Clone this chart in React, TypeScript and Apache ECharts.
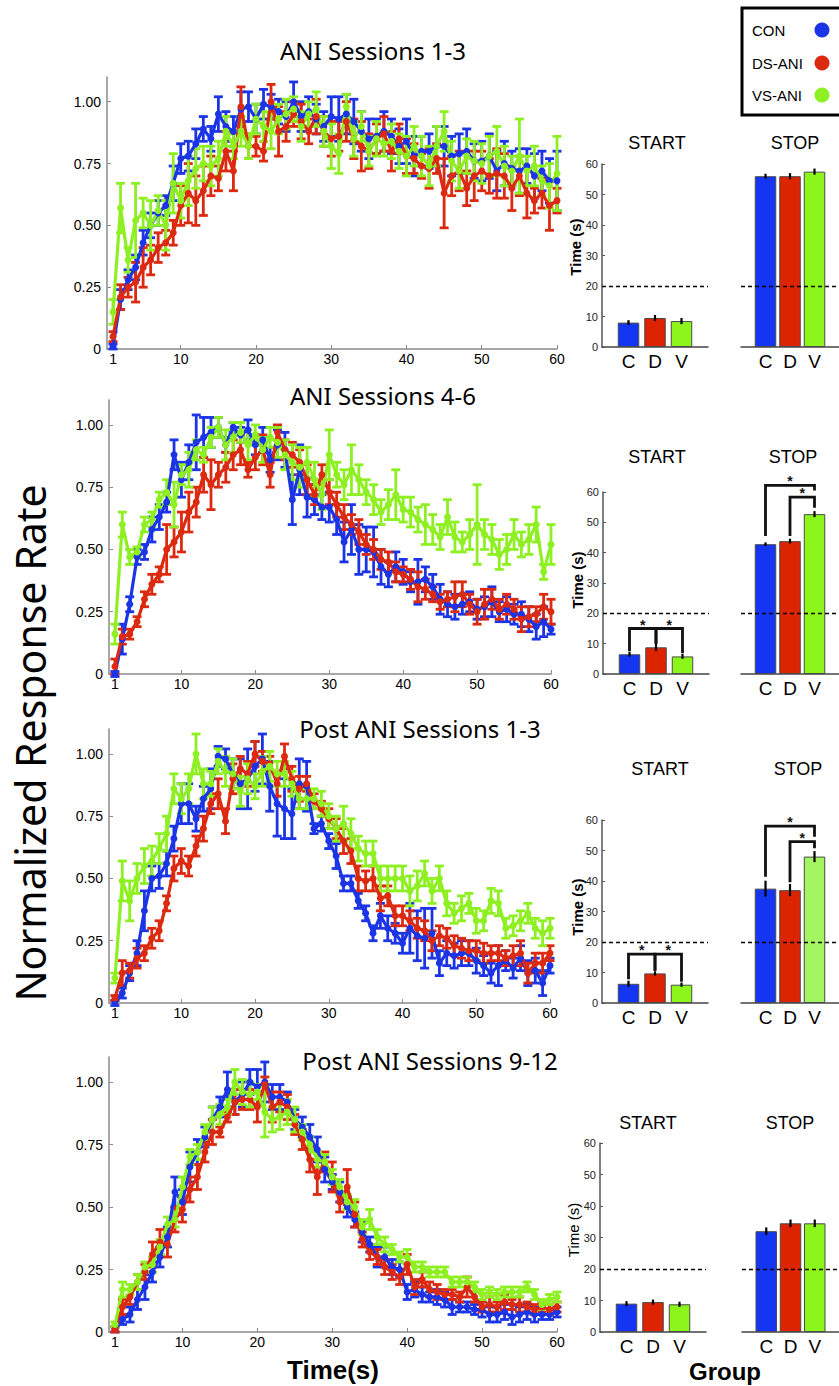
import React, { useEffect, useRef } from "react";
import * as echarts from "echarts";

// ---------- DATA ----------
const TIME = [1,2,3,4,5,6,7,8,9,10,11,12,13,14,15,16,17,18,19,20,21,22,23,24,25,26,27,28,29,30,31,32,33,34,35,36,37,38,39,40,41,42,43,44,45,46,47,48,49,50,51,52,53,54,55,56,57,58,59,60];
const X_TICKS = [1, 10, 20, 30, 40, 50, 60];
const Y_TICKS = [0, 0.25, 0.5, 0.75, 1.0];
const GROUP_LABELS = ["C", "D", "V"];
const GROUP_NAMES = ["CON", "DS-ANI", "VS-ANI"];
const ROW_TITLES = ["ANI Sessions 1-3", "ANI Sessions 4-6", "Post ANI Sessions 1-3", "Post ANI Sessions 9-12"];

// Row 1: ANI Sessions 1-3
const R1_CON = [0.01,0.2,0.28,0.33,0.43,0.5,0.55,0.58,0.67,0.77,0.78,0.83,0.89,0.85,0.95,0.9,0.88,0.97,0.98,0.93,0.99,0.98,0.96,0.94,1.0,0.94,0.96,0.93,0.9,0.94,0.93,0.95,0.92,0.88,0.85,0.86,0.88,0.86,0.82,0.84,0.78,0.8,0.8,0.82,0.82,0.78,0.79,0.8,0.76,0.76,0.78,0.72,0.75,0.73,0.72,0.74,0.7,0.72,0.68,0.68];
const R1_CON_ERR = [0.01,0.04,0.04,0.05,0.05,0.05,0.05,0.04,0.07,0.06,0.06,0.06,0.05,0.05,0.07,0.06,0.06,0.07,0.06,0.06,0.06,0.05,0.05,0.06,0.08,0.06,0.06,0.06,0.06,0.08,0.09,0.08,0.09,0.08,0.08,0.07,0.08,0.07,0.07,0.09,0.08,0.06,0.07,0.08,0.08,0.08,0.08,0.09,0.07,0.08,0.09,0.08,0.09,0.07,0.09,0.07,0.09,0.08,0.09,0.12];
const R1_DS = [0.05,0.21,0.25,0.27,0.33,0.36,0.41,0.43,0.47,0.58,0.63,0.6,0.64,0.7,0.69,0.8,0.72,0.98,0.82,0.82,0.8,1.0,0.88,0.9,0.95,0.92,0.88,0.94,0.88,0.85,0.86,0.92,0.85,0.82,0.8,0.85,0.87,0.8,0.85,0.78,0.77,0.74,0.73,0.77,0.63,0.7,0.72,0.65,0.7,0.72,0.7,0.71,0.7,0.65,0.7,0.63,0.6,0.63,0.58,0.6];
const R1_DS_ERR = [0.02,0.05,0.04,0.08,0.08,0.06,0.06,0.05,0.05,0.08,0.12,0.1,0.1,0.08,0.05,0.08,0.08,0.08,0.05,0.04,0.04,0.07,0.1,0.06,0.05,0.07,0.05,0.07,0.06,0.07,0.06,0.08,0.08,0.1,0.07,0.06,0.07,0.08,0.06,0.07,0.06,0.05,0.08,0.06,0.14,0.08,0.08,0.07,0.1,0.08,0.07,0.1,0.09,0.09,0.08,0.1,0.05,0.06,0.1,0.05];
const R1_VS = [0.15,0.57,0.36,0.52,0.55,0.5,0.56,0.5,0.67,0.6,0.68,0.73,0.75,0.74,0.77,0.88,0.82,0.88,0.82,0.93,0.9,0.88,0.93,0.95,0.97,0.9,0.95,0.97,0.88,0.82,0.79,0.98,0.85,0.9,0.8,0.85,0.83,0.84,0.8,0.78,0.82,0.78,0.74,0.82,0.88,0.76,0.72,0.78,0.76,0.75,0.78,0.8,0.74,0.72,0.78,0.72,0.74,0.68,0.66,0.71];
const R1_VS_ERR = [0.05,0.1,0.05,0.15,0.06,0.1,0.06,0.1,0.12,0.07,0.1,0.08,0.07,0.08,0.07,0.06,0.05,0.06,0.05,0.06,0.06,0.07,0.06,0.06,0.05,0.06,0.05,0.07,0.06,0.09,0.08,0.05,0.07,0.06,0.06,0.07,0.05,0.07,0.07,0.08,0.08,0.08,0.08,0.08,0.08,0.08,0.07,0.07,0.08,0.08,0.08,0.1,0.08,0.06,0.15,0.06,0.08,0.06,0.09,0.15];

// Row 2: ANI Sessions 4-6
const R2_CON = [0.0,0.14,0.28,0.47,0.49,0.58,0.63,0.69,0.88,0.78,0.85,0.93,0.95,0.97,0.99,0.92,0.99,0.96,0.98,0.92,0.94,0.86,0.92,0.9,0.7,0.82,0.71,0.7,0.67,0.67,0.62,0.53,0.58,0.5,0.5,0.49,0.43,0.4,0.43,0.41,0.37,0.37,0.38,0.35,0.3,0.28,0.27,0.28,0.29,0.26,0.27,0.29,0.25,0.26,0.24,0.24,0.22,0.19,0.21,0.18];
const R2_CON_ERR = [0.01,0.06,0.03,0.03,0.03,0.05,0.05,0.04,0.06,0.07,0.07,0.11,0.08,0.06,0.04,0.03,0.02,0.03,0.04,0.04,0.05,0.05,0.06,0.07,0.1,0.1,0.08,0.06,0.05,0.06,0.06,0.08,0.1,0.1,0.09,0.1,0.07,0.05,0.06,0.05,0.04,0.09,0.05,0.05,0.06,0.05,0.05,0.04,0.04,0.04,0.04,0.06,0.04,0.05,0.04,0.05,0.05,0.05,0.06,0.02];
const R2_DS = [0.03,0.15,0.16,0.21,0.3,0.36,0.4,0.5,0.53,0.57,0.65,0.69,0.8,0.76,0.8,0.83,0.88,0.9,0.82,0.87,0.9,0.8,0.97,0.9,0.88,0.85,0.78,0.72,0.8,0.73,0.68,0.63,0.6,0.57,0.52,0.5,0.46,0.45,0.41,0.4,0.38,0.35,0.34,0.32,0.29,0.3,0.31,0.32,0.28,0.25,0.28,0.3,0.26,0.28,0.26,0.22,0.23,0.24,0.27,0.25];
const R2_DS_ERR = [0.03,0.03,0.02,0.02,0.03,0.04,0.03,0.1,0.06,0.08,0.08,0.06,0.07,0.1,0.05,0.06,0.06,0.06,0.03,0.05,0.06,0.05,0.03,0.04,0.05,0.05,0.06,0.04,0.04,0.05,0.05,0.05,0.04,0.05,0.04,0.04,0.04,0.04,0.04,0.03,0.04,0.06,0.04,0.03,0.03,0.03,0.06,0.05,0.04,0.05,0.06,0.04,0.04,0.04,0.04,0.05,0.04,0.03,0.05,0.05];
const R2_VS = [0.16,0.6,0.47,0.49,0.6,0.62,0.7,0.73,0.68,0.8,0.82,0.9,0.88,0.95,0.99,0.92,0.95,0.97,0.92,0.96,0.9,0.95,0.93,0.88,0.85,0.83,0.85,0.78,0.72,0.88,0.8,0.76,0.82,0.78,0.73,0.7,0.65,0.68,0.72,0.66,0.65,0.62,0.6,0.58,0.55,0.63,0.55,0.53,0.56,0.6,0.56,0.54,0.48,0.5,0.56,0.52,0.54,0.6,0.41,0.52];
const R2_VS_ERR = [0.04,0.05,0.03,0.02,0.03,0.03,0.03,0.05,0.09,0.04,0.07,0.04,0.03,0.04,0.04,0.06,0.06,0.04,0.06,0.04,0.05,0.04,0.06,0.06,0.07,0.08,0.06,0.07,0.06,0.1,0.05,0.06,0.1,0.06,0.05,0.06,0.05,0.06,0.1,0.05,0.06,0.05,0.08,0.06,0.05,0.07,0.06,0.04,0.06,0.16,0.06,0.06,0.06,0.06,0.06,0.05,0.06,0.07,0.03,0.08];

// Row 3: Post ANI Sessions 1-3
const R3_CON = [0.0,0.04,0.12,0.2,0.37,0.5,0.51,0.56,0.66,0.8,0.8,0.74,0.82,0.86,0.99,0.98,0.92,0.88,0.9,0.95,0.98,0.87,0.8,0.78,0.76,0.88,0.87,0.7,0.72,0.65,0.59,0.48,0.48,0.41,0.36,0.28,0.35,0.3,0.28,0.24,0.3,0.27,0.26,0.28,0.16,0.2,0.19,0.2,0.2,0.17,0.15,0.12,0.15,0.17,0.14,0.18,0.12,0.13,0.08,0.15];
const R3_CON_ERR = [0.01,0.02,0.03,0.05,0.08,0.05,0.05,0.05,0.05,0.08,0.08,0.05,0.05,0.08,0.04,0.04,0.06,0.1,0.12,0.1,0.1,0.1,0.13,0.12,0.1,0.1,0.1,0.02,0.03,0.03,0.05,0.03,0.03,0.03,0.03,0.03,0.05,0.05,0.04,0.04,0.1,0.1,0.12,0.1,0.05,0.05,0.05,0.05,0.05,0.05,0.04,0.04,0.08,0.04,0.04,0.05,0.05,0.05,0.05,0.03];
const R3_DS = [0.02,0.12,0.13,0.18,0.2,0.26,0.29,0.4,0.54,0.57,0.55,0.63,0.7,0.8,0.84,0.73,0.9,0.94,0.92,1.0,0.97,0.96,0.88,0.99,0.9,0.86,0.88,0.81,0.78,0.74,0.7,0.65,0.61,0.5,0.49,0.5,0.42,0.43,0.35,0.35,0.33,0.3,0.29,0.25,0.27,0.26,0.23,0.22,0.21,0.21,0.2,0.2,0.2,0.18,0.19,0.2,0.12,0.16,0.16,0.2];
const R3_DS_ERR = [0.01,0.05,0.03,0.04,0.03,0.04,0.04,0.03,0.05,0.05,0.04,0.04,0.05,0.04,0.06,0.05,0.06,0.05,0.05,0.05,0.04,0.03,0.05,0.05,0.05,0.05,0.03,0.03,0.03,0.04,0.04,0.05,0.05,0.05,0.04,0.05,0.05,0.04,0.04,0.04,0.04,0.04,0.04,0.04,0.04,0.04,0.04,0.04,0.04,0.04,0.04,0.03,0.03,0.03,0.04,0.05,0.04,0.04,0.04,0.03];
const R3_VS = [0.1,0.49,0.41,0.5,0.55,0.57,0.62,0.68,0.86,0.82,0.86,1.0,0.88,0.88,0.97,0.93,0.92,0.85,0.9,0.87,0.93,0.95,0.92,0.92,0.88,0.82,0.82,0.82,0.8,0.75,0.7,0.72,0.68,0.62,0.6,0.6,0.5,0.5,0.5,0.5,0.45,0.47,0.52,0.45,0.5,0.4,0.36,0.38,0.4,0.33,0.33,0.41,0.4,0.3,0.31,0.33,0.36,0.3,0.28,0.3];
const R3_VS_ERR = [0.02,0.08,0.08,0.06,0.07,0.06,0.06,0.07,0.06,0.06,0.06,0.08,0.06,0.05,0.05,0.06,0.06,0.06,0.06,0.05,0.06,0.06,0.05,0.05,0.05,0.04,0.04,0.04,0.05,0.05,0.05,0.07,0.06,0.05,0.05,0.05,0.05,0.05,0.05,0.05,0.06,0.06,0.05,0.05,0.05,0.05,0.04,0.05,0.04,0.05,0.04,0.05,0.05,0.04,0.04,0.04,0.04,0.04,0.05,0.04];

// Row 4: Post ANI Sessions 9-12
const R4_CON = [0.01,0.05,0.07,0.13,0.18,0.24,0.3,0.38,0.56,0.52,0.66,0.72,0.78,0.85,0.9,0.97,0.92,0.95,1.0,0.98,1.0,0.94,0.94,0.92,0.85,0.82,0.78,0.73,0.65,0.6,0.56,0.5,0.45,0.4,0.35,0.3,0.3,0.26,0.25,0.16,0.17,0.15,0.14,0.14,0.13,0.1,0.1,0.1,0.09,0.09,0.07,0.07,0.08,0.06,0.07,0.08,0.07,0.07,0.07,0.08];
const R4_CON_ERR = [0.01,0.02,0.03,0.04,0.05,0.04,0.04,0.04,0.06,0.05,0.06,0.05,0.04,0.05,0.04,0.07,0.05,0.05,0.05,0.07,0.08,0.05,0.05,0.04,0.04,0.04,0.05,0.05,0.05,0.03,0.04,0.04,0.03,0.04,0.03,0.04,0.04,0.03,0.03,0.03,0.03,0.03,0.02,0.03,0.03,0.03,0.02,0.02,0.02,0.03,0.03,0.03,0.03,0.03,0.03,0.03,0.03,0.02,0.02,0.02];
const R4_DS = [0.01,0.1,0.14,0.2,0.24,0.31,0.36,0.35,0.45,0.49,0.57,0.62,0.72,0.8,0.8,0.86,0.92,0.93,0.93,0.9,0.99,0.9,0.92,0.9,0.83,0.77,0.69,0.62,0.68,0.62,0.52,0.58,0.47,0.37,0.32,0.3,0.26,0.24,0.22,0.27,0.18,0.21,0.17,0.16,0.15,0.15,0.14,0.18,0.14,0.1,0.11,0.1,0.12,0.11,0.11,0.1,0.09,0.1,0.09,0.1];
const R4_DS_ERR = [0.01,0.03,0.03,0.03,0.03,0.05,0.05,0.05,0.05,0.05,0.05,0.05,0.04,0.05,0.02,0.02,0.05,0.04,0.04,0.06,0.03,0.06,0.04,0.05,0.04,0.04,0.05,0.07,0.04,0.06,0.04,0.07,0.05,0.03,0.03,0.03,0.03,0.03,0.03,0.04,0.03,0.03,0.03,0.03,0.02,0.02,0.02,0.04,0.02,0.02,0.03,0.02,0.03,0.02,0.03,0.02,0.02,0.02,0.02,0.02];
const R4_VS = [0.03,0.17,0.17,0.2,0.26,0.27,0.34,0.43,0.45,0.58,0.7,0.72,0.8,0.85,0.87,0.9,1.0,0.96,0.95,0.96,0.88,0.85,0.86,0.88,0.85,0.8,0.75,0.69,0.68,0.62,0.58,0.52,0.5,0.42,0.45,0.38,0.35,0.33,0.3,0.3,0.26,0.26,0.24,0.24,0.24,0.2,0.2,0.2,0.18,0.15,0.16,0.15,0.16,0.16,0.16,0.18,0.15,0.11,0.13,0.14];
const R4_VS_ERR = [0.01,0.03,0.02,0.03,0.02,0.03,0.03,0.03,0.03,0.04,0.03,0.03,0.03,0.05,0.04,0.03,0.05,0.05,0.05,0.03,0.1,0.05,0.05,0.05,0.05,0.03,0.03,0.03,0.03,0.03,0.03,0.03,0.03,0.03,0.04,0.03,0.03,0.02,0.02,0.03,0.02,0.02,0.02,0.02,0.02,0.02,0.02,0.02,0.02,0.02,0.02,0.02,0.02,0.02,0.02,0.02,0.02,0.02,0.02,0.02];

// Bar panels (seconds): C, D, V
const START_1 = [8.0, 9.5, 8.5];
const START_1_ERR = [0.8, 1.0, 1.0];
const STOP_1 = [56.0, 56.0, 57.5];
const STOP_1_ERR = [0.8, 1.0, 1.0];
const START_2 = [6.5, 8.8, 5.8];
const START_2_ERR = [0.8, 1.2, 0.8];
const STOP_2 = [42.8, 43.8, 52.7];
const STOP_2_ERR = [0.6, 0.8, 1.0];
const START_3 = [6.3, 9.7, 6.0];
const START_3_ERR = [1.0, 0.7, 0.7];
const STOP_3 = [37.5, 37.0, 48.0];
const STOP_3_ERR = [2.6, 2.0, 1.8];
const START_4 = [9.0, 9.5, 8.8];
const START_4_ERR = [0.8, 0.8, 0.8];
const STOP_4 = [32.0, 34.5, 34.5];
const STOP_4_ERR = [1.2, 1.2, 1.2];
const CRITERION = 20;

// Significance brackets: [groupFrom, groupTo, topValue, leftLegBottom, rightLegBottom]
const START_2_SIG = [[1, 2, 15, 7.5, 10.0], [2, 3, 15, 10.0, 6.8]];
const STOP_2_SIG = [[1, 3, 62.2, 45.5, 60.5], [2, 3, 58.3, 45.5, 54.8]];
const START_3_SIG = [[1, 2, 16, 7.8, 10.6], [2, 3, 16, 10.6, 7.0]];
const STOP_3_SIG = [[1, 3, 58.0, 41.4, 54.5], [2, 3, 52.9, 39.6, 50.7]];

// ---------- STYLE / LAYOUT ----------
const LINE_COLORS = ["#1b35e6", "#dc2a10", "#8ef022"];
const BAR_COLORS = ["#1436f2", "#dd2400", "#8cf51a"];
const BAR_COLORS_LIGHT_V = "#a3f562";
const FONT = "Liberation Sans, Arial, sans-serif";
const TITLE_FONT = "Noto Sans, Open Sans, sans-serif";

const LINE_GRIDS = [
  { left: 107, top: 77, width: 450, height: 272 },
  { left: 109, top: 400, width: 442, height: 274 },
  { left: 109, top: 729, width: 441, height: 274 },
  { left: 109, top: 1057, width: 448, height: 275 },
];
const START_GRIDS = [
  { left: 602, top: 164, width: 106, height: 183 },
  { left: 603, top: 492, width: 106, height: 182 },
  { left: 602, top: 820, width: 106, height: 183 },
  { left: 600, top: 1143, width: 106, height: 189 },
];
const STOP_GRIDS = [
  { left: 741, top: 164, width: 106, height: 183 },
  { left: 741, top: 492, width: 106, height: 182 },
  { left: 741, top: 820, width: 106, height: 183 },
  { left: 742, top: 1143, width: 106, height: 189 },
];
const LINE_TITLE_POS = [[373, 50], [383, 395], [420, 728], [430, 1060]];
const START_TITLE_POS = [[657, 143], [657, 457], [660, 769], [648, 1123]];
const STOP_TITLE_POS = [[795, 143], [793, 457], [798, 769], [790, 1123]];
const TIME_LABEL_POS = [[575, 247], [577, 580], [577, 907], [573, 1230]];

const LINE_ROWS = [
  [[R1_CON, R1_CON_ERR], [R1_DS, R1_DS_ERR], [R1_VS, R1_VS_ERR]],
  [[R2_CON, R2_CON_ERR], [R2_DS, R2_DS_ERR], [R2_VS, R2_VS_ERR]],
  [[R3_CON, R3_CON_ERR], [R3_DS, R3_DS_ERR], [R3_VS, R3_VS_ERR]],
  [[R4_CON, R4_CON_ERR], [R4_DS, R4_DS_ERR], [R4_VS, R4_VS_ERR]],
];
const BAR_ROWS = [
  { start: START_1, startErr: START_1_ERR, stop: STOP_1, stopErr: STOP_1_ERR, startSig: [], stopSig: [] },
  { start: START_2, startErr: START_2_ERR, stop: STOP_2, stopErr: STOP_2_ERR, startSig: START_2_SIG, stopSig: STOP_2_SIG },
  { start: START_3, startErr: START_3_ERR, stop: STOP_3, stopErr: STOP_3_ERR, startSig: START_3_SIG, stopSig: STOP_3_SIG },
  { start: START_4, startErr: START_4_ERR, stop: STOP_4, stopErr: STOP_4_ERR, startSig: [], stopSig: [] },
];

function errorBarRender(capHalf: number, width: number, fixedColor?: string) {
  return (params: any, api: any) => {
    const x = api.value(0);
    const lo = api.coord([x, api.value(1)]);
    const hi = api.coord([x, api.value(2)]);
    const style = { stroke: fixedColor || api.visual("color"), lineWidth: width };
    const children: any[] = [
      { type: "line", shape: { x1: lo[0], y1: lo[1], x2: hi[0], y2: hi[1] }, style },
    ];
    if (capHalf > 0) {
      children.push({ type: "line", shape: { x1: hi[0] - capHalf, y1: hi[1], x2: hi[0] + capHalf, y2: hi[1] }, style });
      children.push({ type: "line", shape: { x1: lo[0] - capHalf, y1: lo[1], x2: lo[0] + capHalf, y2: lo[1] }, style });
    }
    return { type: "group", children };
  };
}

function bracketRender(params: any, api: any) {
  const x1 = api.value(0), x2 = api.value(1), top = api.value(2), b1 = api.value(3), b2 = api.value(4);
  const p1 = api.coord([x1, b1]);
  const p2 = api.coord([x1, top]);
  const p3 = api.coord([x2, top]);
  const p4 = api.coord([x2, b2]);
  const mid = api.coord([(x1 + x2) / 2, top]);
  return {
    type: "group",
    children: [
      { type: "polyline", shape: { points: [p1, p2, p3, p4] }, style: { stroke: "#111", lineWidth: 2.8, fill: "none" } },
      {
        type: "text",
        x: mid[0],
        y: mid[1] - 4,
        style: { text: "*", fill: "#111", font: "bold 14px " + FONT, align: "center", verticalAlign: "middle", textAlign: "center", textVerticalAlign: "middle" },
      },
    ],
  };
}

function txt(text: string, x: number, y: number, font: string, extra: any = {}) {
  return {
    type: "text",
    x,
    y,
    rotation: extra.rotation || 0,
    silent: true,
    style: {
      text,
      fill: "#000",
      font,
      align: extra.align || "center",
      verticalAlign: "middle",
      textAlign: extra.align || "center",
      textVerticalAlign: "middle",
    },
  };
}

function buildOption() {
  const grid: any[] = [];
  const xAxis: any[] = [];
  const yAxis: any[] = [];
  const series: any[] = [];
  const graphic: any[] = [];

  LINE_ROWS.forEach((row, r) => {
    const gi = grid.length;
    grid.push({ ...LINE_GRIDS[r] });
    xAxis.push({
      type: "value", gridIndex: gi, min: 0.2, max: 60,
      axisLine: { show: true, lineStyle: { color: "#8a8a8a", width: 1.5 } },
      axisTick: { show: true, inside: true, length: 4, customValues: X_TICKS, lineStyle: { color: "#8a8a8a" } },
      axisLabel: { customValues: X_TICKS, fontSize: 14, color: "#000", margin: 3, fontFamily: FONT },
      splitLine: { show: false },
    });
    yAxis.push({
      type: "value", gridIndex: gi, min: 0, max: 1.1,
      axisLine: { show: true, lineStyle: { color: "#8a8a8a", width: 1.5 } },
      axisTick: { show: true, inside: true, length: 4, customValues: Y_TICKS, lineStyle: { color: "#8a8a8a" } },
      axisLabel: {
        customValues: Y_TICKS, fontSize: 14, color: "#000", margin: 6, fontFamily: FONT,
        formatter: (v: number) => (v === 0 ? "0" : v > 1.05 ? "" : v.toFixed(2)),
      },
      splitLine: { show: false },
    });
    row.forEach(([mean, err], s) => {
      series.push({
        type: "custom", xAxisIndex: gi, yAxisIndex: gi, silent: true,
        itemStyle: { color: LINE_COLORS[s] },
        renderItem: errorBarRender(4.5, 2.8),
        encode: { x: 0, y: [1, 2] },
        data: TIME.map((t, i) => [t, mean[i] - err[i], mean[i] + err[i]]),
        z: 2,
      });
      series.push({
        type: "line", name: GROUP_NAMES[s], xAxisIndex: gi, yAxisIndex: gi, silent: true,
        symbol: "circle", symbolSize: 7, showSymbol: true,
        itemStyle: { color: LINE_COLORS[s] },
        lineStyle: { color: LINE_COLORS[s], width: 3.2 },
        data: TIME.map((t, i) => [t, mean[i]]),
        z: 2,
      });
    });
    graphic.push(txt(ROW_TITLES[r], LINE_TITLE_POS[r][0], LINE_TITLE_POS[r][1], "24px " + TITLE_FONT));
  });

  BAR_ROWS.forEach((row, r) => {
    const panels = [
      { g: START_GRIDS[r], vals: row.start, err: row.startErr, sig: row.startSig, isStart: true },
      { g: STOP_GRIDS[r], vals: row.stop, err: row.stopErr, sig: row.stopSig, isStart: false },
    ];
    panels.forEach((p) => {
      const gi = grid.length;
      grid.push({ ...p.g });
      xAxis.push({
        type: "value", gridIndex: gi, min: 0, max: 4,
        axisLine: { show: true, lineStyle: { color: "#444", width: 1.5 } },
        axisTick: { show: false },
        axisLabel: { customValues: [1, 2, 3], formatter: (v: number) => GROUP_LABELS[Math.round(v) - 1] || "", fontSize: 19, color: "#000", margin: 5, fontFamily: FONT },
        splitLine: { show: false },
      });
      yAxis.push({
        type: "value", gridIndex: gi, min: 0, max: 60, interval: 10,
        axisLine: { show: p.isStart, lineStyle: { color: "#555", width: 1.5 } },
        axisTick: { show: p.isStart, inside: true, length: 3, lineStyle: { color: "#555" } },
        axisLabel: { show: p.isStart, fontSize: 11, color: "#222", margin: 4, fontFamily: FONT },
        splitLine: { show: false },
      });
      const lightV = r === 2 && !p.isStart;
      series.push({
        type: "bar", xAxisIndex: gi, yAxisIndex: gi, silent: true, barWidth: 21.5,
        data: p.vals.map((v, i) => ({
          value: [i + 1, v],
          itemStyle: { color: lightV && i === 2 ? BAR_COLORS_LIGHT_V : BAR_COLORS[i], borderColor: "#4a4a4a", borderWidth: 1 },
        })),
        markLine: {
          silent: true, symbol: "none", animation: false,
          label: { show: false },
          lineStyle: { type: [4, 3], color: "#000", width: 1.3 },
          data: [{ yAxis: CRITERION }],
        },
        z: 2,
      });
      series.push({
        type: "custom", xAxisIndex: gi, yAxisIndex: gi, silent: true,
        itemStyle: { color: "#000" },
        renderItem: errorBarRender(0, 2.2, "#000"),
        encode: { x: 0, y: [1, 2] },
        data: p.vals.map((v, i) => [i + 1, v - p.err[i], v + p.err[i]]),
        z: 3,
      });
      if (p.sig.length) {
        series.push({
          type: "custom", xAxisIndex: gi, yAxisIndex: gi, silent: true, clip: false,
          renderItem: bracketRender,
          encode: { x: [0, 1], y: [2, 3, 4] },
          data: p.sig,
          z: 4,
        });
      }
    });
    graphic.push(txt("START", START_TITLE_POS[r][0], START_TITLE_POS[r][1], "18px " + FONT));
    graphic.push(txt("STOP", STOP_TITLE_POS[r][0], STOP_TITLE_POS[r][1], "18px " + FONT));
    graphic.push(txt("Time (s)", TIME_LABEL_POS[r][0], TIME_LABEL_POS[r][1], (r === 3 ? "" : "bold ") + "15px " + FONT, { rotation: Math.PI / 2 }));
  });

  // Big axis titles
  graphic.push(txt("Normalized Response Rate", 30, 743, "41px " + TITLE_FONT, { rotation: Math.PI / 2 }));
  graphic.push(txt("Time(s)", 333, 1370, "bold 26px " + FONT));
  graphic.push(txt("Group", 725, 1371, "bold 24px " + FONT));

  // Legend box
  graphic.push({ type: "rect", shape: { x: 742, y: 8, width: 110, height: 107 }, style: { fill: "#fff", stroke: "#000", lineWidth: 3 }, z: 10 });
  const legendY = [30, 63, 95];
  GROUP_NAMES.forEach((name, i) => {
    const t: any = txt(name, 752, legendY[i], "15px " + FONT, { align: "left" });
    t.z = 11;
    graphic.push(t);
    graphic.push({ type: "circle", shape: { cx: 822, cy: legendY[i], r: 7.5 }, style: { fill: LINE_COLORS[i] }, z: 11 });
  });

  return { animation: false, backgroundColor: "#fff", grid, xAxis, yAxis, series, graphic };
}

export default function App() {
  const ref = useRef<HTMLDivElement>(null);
  useEffect(() => {
    if (!ref.current) return;
    const chart = echarts.init(ref.current, undefined, { renderer: "svg" });
    chart.setOption(buildOption() as any);
    return () => chart.dispose();
  }, []);
  return <div ref={ref} style={{ position: "absolute", left: 0, top: 0, width: 839, height: 1386, background: "#fff" }} />;
}
